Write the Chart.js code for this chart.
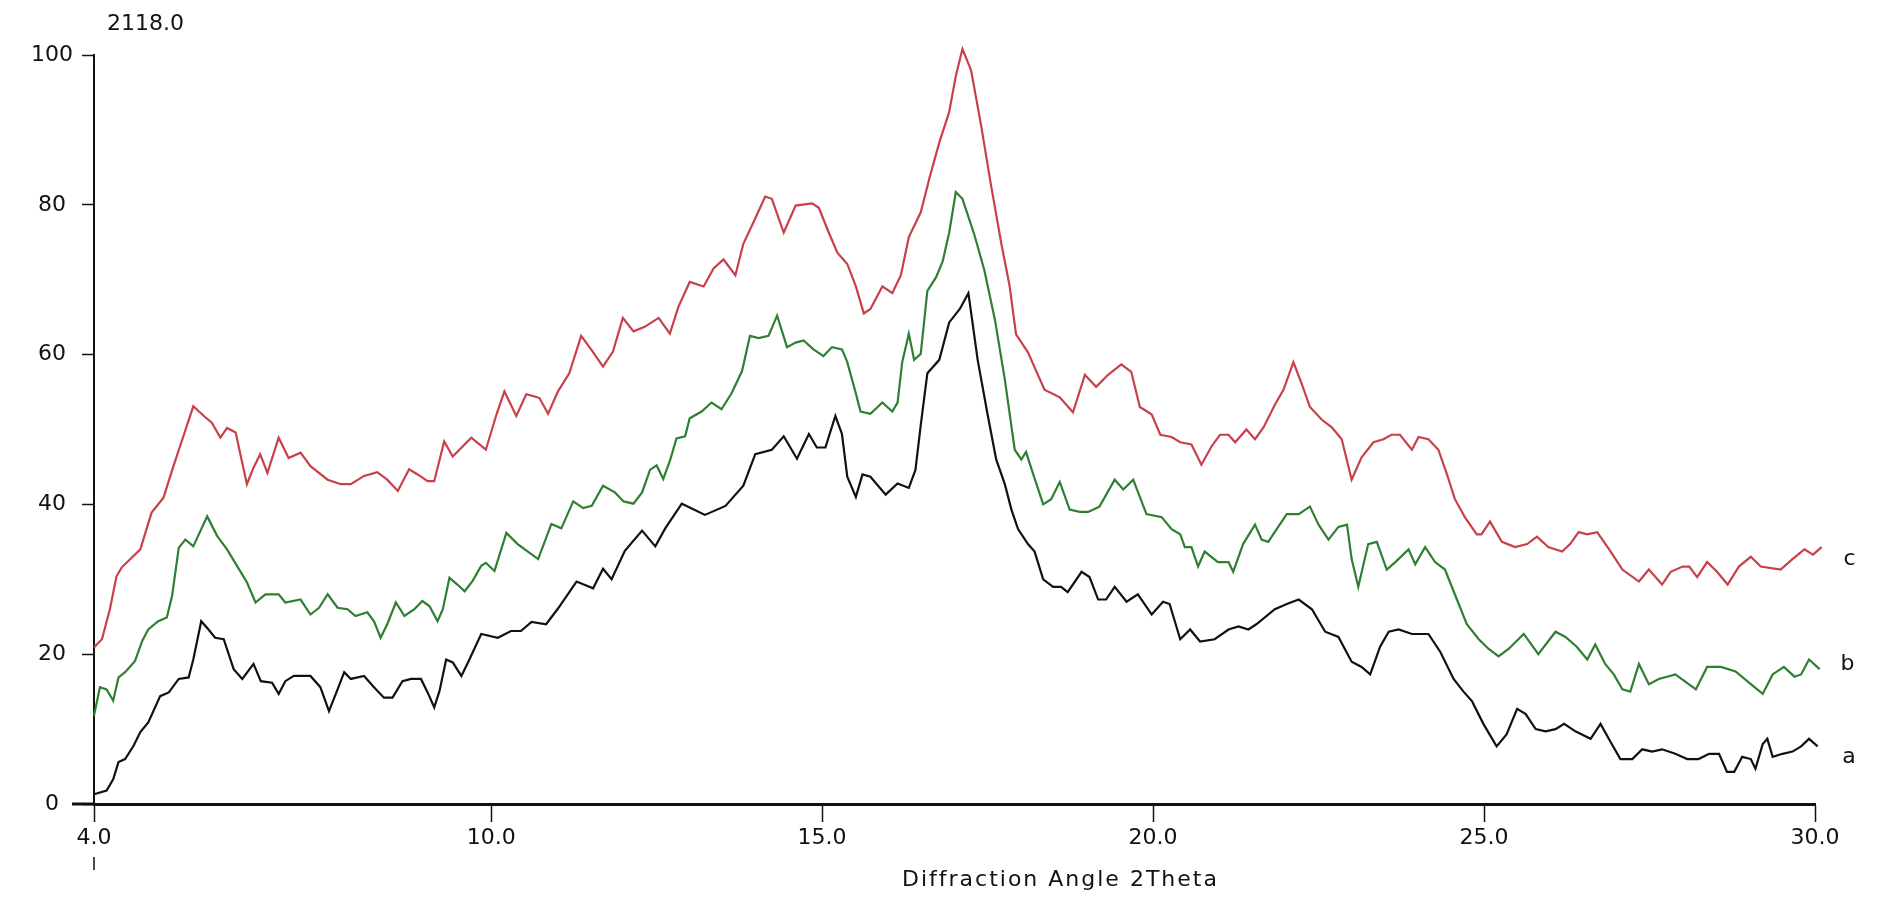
<!DOCTYPE html>
<html>
<head>
<meta charset="utf-8">
<script src="https://cdn.jsdelivr.net/npm/chart.js@4.4.1/dist/chart.umd.min.js"></script>
<style>
  html, body { margin: 0; padding: 0; background: #fff; }
  #wrap { width: 1882px; height: 923px; position: relative; }
</style>
</head>
<body>
<div id="wrap"><canvas id="xrd"></canvas></div>
<script>
// sample a (black)
const thetaA = [4.0, 4.19, 4.29, 4.37, 4.47, 4.6, 4.7, 4.82, 5.0, 5.13, 5.28, 5.43, 5.5, 5.62, 5.73, 5.83, 5.96, 6.11, 6.24, 6.41,
  6.52, 6.69, 6.79, 6.89, 7.02, 7.27, 7.42, 7.55, 7.68, 7.78, 7.88, 8.08, 8.23, 8.38, 8.51, 8.66, 8.79, 8.94, 9.04, 9.14,
  9.22, 9.32, 9.42, 9.55, 9.65, 9.85, 10.1, 10.3, 10.45, 10.61, 10.83, 11.01, 11.29, 11.54, 11.69, 11.82, 12.02, 12.28, 12.48, 12.63,
  12.88, 13.23, 13.54, 13.81, 13.99, 14.24, 14.42, 14.62, 14.8, 14.92, 15.05, 15.2, 15.3, 15.38, 15.51, 15.61, 15.73, 15.96, 16.14, 16.31,
  16.41, 16.49, 16.59, 16.77, 16.92, 17.08, 17.21, 17.35, 17.5, 17.63, 17.76, 17.86, 17.96, 18.11, 18.21, 18.34, 18.49, 18.61, 18.71, 18.92,
  19.04, 19.17, 19.29, 19.42, 19.6, 19.77, 19.98, 20.15, 20.25, 20.41, 20.56, 20.71, 20.93, 21.14, 21.29, 21.44, 21.56, 21.84, 22.02, 22.2,
  22.4, 22.6, 22.8, 23.0, 23.15, 23.28, 23.43, 23.56, 23.71, 23.91, 24.16, 24.34, 24.54, 24.69, 24.82, 24.99, 25.19, 25.34, 25.5, 25.63,
  25.78, 25.93, 26.08, 26.21, 26.38, 26.61, 26.76, 26.91, 27.06, 27.24, 27.39, 27.54, 27.69, 27.89, 28.07, 28.24, 28.4, 28.55, 28.67, 28.78,
  28.9, 29.03, 29.1, 29.21, 29.28, 29.36, 29.51, 29.66, 29.79, 29.91, 30.04, 30.11, 30.21];
const countA = [1.3, 1.8, 3.3, 5.6, 6.0, 7.8, 9.6, 10.9, 14.4, 14.9, 16.7, 16.9, 19.3, 24.4, 23.3, 22.2, 22.0, 18.0, 16.7, 18.7,
  16.4, 16.2, 14.7, 16.4, 17.1, 17.1, 15.6, 12.4, 15.3, 17.6, 16.7, 17.1, 15.6, 14.2, 14.2, 16.4, 16.7, 16.7, 14.9, 12.9,
  15.1, 19.3, 18.9, 17.1, 18.9, 22.7, 22.2, 23.1, 23.1, 24.3, 24.0, 26.1, 29.7, 28.8, 31.4, 30.0, 33.8, 36.5, 34.4, 36.8,
  40.1, 38.6, 39.8, 42.5, 46.7, 47.3, 49.1, 46.1, 49.4, 47.6, 47.6, 51.8, 49.4, 43.7, 41.0, 44.0, 43.7, 41.3, 42.8, 42.2,
  44.6, 50.6, 57.5, 59.3, 64.3, 66.1, 68.2, 59.3, 52.0, 46.0, 42.7, 39.3, 36.7, 34.7, 33.7, 30.0, 29.0, 29.0, 28.3, 31.0,
  30.3, 27.3, 27.3, 29.0, 27.0, 28.0, 25.3, 27.0, 26.7, 22.0, 23.3, 21.7, 22.0, 23.3, 23.7, 23.3, 24.0, 26.0, 26.7, 27.3,
  26.0, 23.0, 22.3, 19.0, 18.3, 17.3, 21.0, 23.0, 23.3, 22.7, 22.7, 20.3, 16.7, 15.0, 13.7, 10.7, 7.7, 9.3, 12.7, 12.0,
  10.0, 9.7, 10.0, 10.7, 9.7, 8.7, 10.7, 8.3, 6.0, 6.0, 7.3, 7.0, 7.3, 6.7, 6.0, 6.0, 6.7, 6.7, 4.3, 4.3,
  6.3, 6.0, 4.7, 8.0, 8.7, 6.3, 6.7, 7.0, 7.7, 8.7, 7.7, 6.3, 6.3];

// sample b (green)
const thetaB = [4.0, 4.09, 4.19, 4.29, 4.37, 4.47, 4.62, 4.73, 4.82, 4.97, 5.1, 5.18, 5.28, 5.38, 5.5, 5.71, 5.86, 6.01, 6.16, 6.31,
  6.44, 6.59, 6.79, 6.89, 7.12, 7.27, 7.4, 7.53, 7.68, 7.83, 7.95, 8.13, 8.23, 8.33, 8.43, 8.56, 8.69, 8.84, 8.96, 9.07,
  9.19, 9.27, 9.37, 9.49, 9.6, 9.72, 9.85, 9.92, 10.05, 10.23, 10.4, 10.71, 10.91, 11.06, 11.24, 11.39, 11.52, 11.69, 11.87, 12.0,
  12.15, 12.28, 12.4, 12.5, 12.6, 12.7, 12.8, 12.93, 13.0, 13.18, 13.33, 13.48, 13.63, 13.79, 13.91, 14.04, 14.19, 14.32, 14.47, 14.6,
  14.72, 14.87, 15.02, 15.15, 15.3, 15.38, 15.51, 15.58, 15.73, 15.91, 16.06, 16.14, 16.21, 16.31, 16.39, 16.49, 16.59, 16.72, 16.82, 16.92,
  17.02, 17.12, 17.3, 17.45, 17.61, 17.76, 17.91, 18.01, 18.08, 18.19, 18.34, 18.46, 18.59, 18.74, 18.89, 19.02, 19.19, 19.42, 19.55, 19.7,
  19.9, 20.13, 20.28, 20.41, 20.48, 20.58, 20.68, 20.78, 20.98, 21.14, 21.21, 21.36, 21.54, 21.64, 21.74, 21.89, 22.02, 22.2, 22.37, 22.5,
  22.65, 22.8, 22.93, 23.0, 23.1, 23.25, 23.38, 23.53, 23.66, 23.86, 23.96, 24.11, 24.26, 24.41, 24.59, 24.74, 24.92, 25.07, 25.22, 25.37,
  25.6, 25.82, 26.08, 26.23, 26.4, 26.56, 26.68, 26.83, 26.96, 27.09, 27.21, 27.34, 27.49, 27.64, 27.89, 28.2, 28.37, 28.58, 28.8, 29.03,
  29.21, 29.36, 29.53, 29.69, 29.79, 29.91, 30.07, 30.19];
const countB = [11.8, 15.6, 15.3, 13.8, 16.9, 17.6, 19.1, 21.8, 23.3, 24.4, 24.9, 27.8, 34.2, 35.3, 34.4, 38.4, 35.8, 34.0, 31.8, 29.6,
  26.9, 28.0, 28.0, 26.9, 27.3, 25.3, 26.2, 28.0, 26.2, 26.0, 25.1, 25.6, 24.4, 22.2, 24.0, 26.9, 25.1, 26.0, 27.1, 26.4,
  24.4, 26.0, 30.2, 29.3, 28.4, 29.8, 31.8, 32.2, 31.1, 36.2, 34.7, 32.7, 37.4, 36.8, 40.4, 39.5, 39.8, 42.5, 41.6, 40.4,
  40.1, 41.6, 44.6, 45.2, 43.4, 45.8, 48.8, 49.1, 51.5, 52.4, 53.6, 52.7, 54.8, 57.8, 62.5, 62.2, 62.5, 65.2, 61.0, 61.6,
  61.9, 60.7, 59.8, 61.0, 60.7, 59.0, 54.8, 52.4, 52.1, 53.6, 52.4, 53.6, 59.0, 62.8, 59.3, 60.1, 68.5, 70.3, 72.4, 76.3,
  81.7, 80.8, 76.0, 71.3, 64.7, 56.7, 47.3, 46.0, 47.0, 44.0, 40.0, 40.7, 43.0, 39.3, 39.0, 39.0, 39.7, 43.3, 42.0, 43.3,
  38.7, 38.3, 36.7, 36.0, 34.3, 34.3, 31.7, 33.7, 32.3, 32.3, 31.0, 34.7, 37.3, 35.3, 35.0, 37.0, 38.7, 38.7, 39.7, 37.3,
  35.3, 37.0, 37.3, 32.7, 29.0, 34.7, 35.0, 31.3, 32.3, 34.0, 32.0, 34.3, 32.3, 31.3, 27.3, 24.0, 22.0, 20.7, 19.7, 20.7,
  22.7, 20.0, 23.0, 22.3, 21.0, 19.3, 21.3, 18.7, 17.3, 15.3, 15.0, 18.7, 16.0, 16.7, 17.3, 15.3, 18.3, 18.3, 17.7, 16.0,
  14.7, 17.3, 18.3, 17.0, 17.3, 19.3, 18.0, 17.3];

// sample c (red)
const thetaC = [4.0, 4.12, 4.24, 4.34, 4.42, 4.55, 4.7, 4.87, 5.05, 5.2, 5.35, 5.5, 5.66, 5.78, 5.91, 6.01, 6.14, 6.31, 6.41, 6.51,
  6.62, 6.79, 6.94, 7.12, 7.27, 7.53, 7.73, 7.88, 8.08, 8.28, 8.43, 8.59, 8.76, 8.89, 9.04, 9.14, 9.29, 9.42, 9.52, 9.7,
  9.92, 10.08, 10.2, 10.38, 10.53, 10.66, 10.73, 10.86, 11.01, 11.18, 11.36, 11.51, 11.69, 11.84, 11.99, 12.15, 12.32, 12.53, 12.7, 12.83,
  13.0, 13.21, 13.36, 13.51, 13.69, 13.81, 13.97, 14.14, 14.24, 14.42, 14.6, 14.85, 14.95, 15.1, 15.23, 15.38, 15.51, 15.63, 15.73, 15.91,
  16.06, 16.19, 16.31, 16.49, 16.62, 16.77, 16.92, 17.02, 17.12, 17.25, 17.4, 17.55, 17.71, 17.83, 17.93, 18.11, 18.24, 18.36, 18.59, 18.79,
  18.97, 19.14, 19.32, 19.52, 19.67, 19.8, 19.98, 20.11, 20.28, 20.41, 20.58, 20.73, 20.88, 21.01, 21.14, 21.24, 21.41, 21.54, 21.67, 21.84,
  21.97, 22.12, 22.25, 22.37, 22.55, 22.7, 22.85, 23.0, 23.15, 23.33, 23.48, 23.6, 23.73, 23.91, 24.01, 24.16, 24.31, 24.44, 24.56, 24.71,
  24.89, 24.96, 25.09, 25.27, 25.47, 25.65, 25.8, 25.97, 26.18, 26.3, 26.43, 26.56, 26.71, 26.89, 27.09, 27.34, 27.49, 27.69, 27.82, 28.0,
  28.1, 28.22, 28.37, 28.52, 28.68, 28.85, 29.03, 29.18, 29.48, 29.66, 29.84, 29.97, 30.1, 30.22];
const countC = [20.9, 22.0, 26.0, 30.4, 31.6, 32.7, 34.0, 38.9, 40.9, 45.1, 49.1, 53.1, 51.8, 50.9, 48.9, 50.2, 49.6, 42.7, 44.9, 46.7,
  44.2, 48.9, 46.2, 46.9, 45.1, 43.3, 42.7, 42.7, 43.8, 44.3, 43.3, 41.8, 44.7, 44.0, 43.1, 43.1, 48.4, 46.4, 47.3, 48.9,
  47.3, 52.0, 55.1, 51.8, 54.7, 54.4, 54.2, 52.1, 55.1, 57.5, 62.5, 60.7, 58.4, 60.4, 64.9, 63.1, 63.7, 64.9, 62.8, 66.4,
  69.7, 69.1, 71.5, 72.7, 70.6, 74.8, 77.8, 81.1, 80.8, 76.3, 79.9, 80.2, 79.6, 76.3, 73.6, 72.1, 69.1, 65.5, 66.1, 69.1,
  68.2, 70.6, 75.7, 79.0, 83.5, 88.3, 92.4, 97.2, 100.8, 98.0, 90.7, 82.7, 74.7, 69.3, 62.7, 60.3, 57.7, 55.3, 54.3, 52.3,
  57.3, 55.7, 57.3, 58.7, 57.7, 53.0, 52.0, 49.3, 49.0, 48.3, 48.0, 45.3, 47.7, 49.3, 49.3, 48.3, 50.0, 48.7, 50.3, 53.3,
  55.3, 59.0, 56.0, 53.0, 51.3, 50.3, 48.7, 43.3, 46.3, 48.3, 48.7, 49.3, 49.3, 47.3, 49.0, 48.7, 47.3, 44.0, 40.7, 38.3,
  36.0, 36.0, 37.7, 35.0, 34.3, 34.7, 35.7, 34.3, 33.7, 34.7, 36.3, 36.0, 36.3, 34.0, 31.3, 29.7, 31.3, 29.3, 31.0, 31.7,
  31.7, 30.3, 32.3, 31.0, 29.3, 31.7, 33.0, 31.7, 31.3, 32.7, 34.0, 33.3, 34.3, 32.7];

const seriesNames = ['a', 'b', 'c'];
const seriesColors = ['#111111', '#2f7f32', '#c8404a'];
const xTickValues = [4.0, 10.0, 15.0, 20.0, 25.0, 30.0];
const yTickValues = [0, 20, 40, 60, 80, 100];
const maxCountLabel = '2118.0';
const xAxisTitle = 'Diffraction Angle 2Theta';

const toPoints = (xs, ys) => xs.map((x, i) => ({x: x, y: ys[i]}));

const FONT = '"DejaVu Sans", sans-serif';
const labelNudge = [0, -10, 0];

// labels a/b/c at line ends, count label, axis title, axis extras
const extrasPlugin = {
    id: 'extras',
    afterDraw(chart) {
        const ctx = chart.ctx;
        const xs = chart.scales.x;
        const ys = chart.scales.y;
        const area = chart.chartArea;
        ctx.save();
        ctx.fillStyle = '#111';
        ctx.font = '22px ' + FONT;
        ctx.textBaseline = 'middle';

        chart.data.datasets.forEach((ds, i) => {
            const pts = chart.getDatasetMeta(i).data;
            const last = pts[pts.length - 1];
            ctx.textAlign = 'center';
            ctx.fillText(seriesNames[i], last.x + 20, last.y + labelNudge[i]);
        });

        ctx.textAlign = 'left';
        ctx.fillText(maxCountLabel, 107, 24);

        ctx.letterSpacing = '2px';
        ctx.fillText(xAxisTitle, 902, 880);
        ctx.letterSpacing = '0px';

        // x axis line runs a bit left of the y axis
        const y0 = ys.getPixelForValue(0);
        ctx.strokeStyle = '#111';
        ctx.lineWidth = 3;
        ctx.beginPath();
        ctx.moveTo(72, y0);
        ctx.lineTo(area.left, y0);
        ctx.stroke();

        // small mark under the first x label
        const x4 = xs.getPixelForValue(xTickValues[0]);
        ctx.lineWidth = 1.5;
        ctx.beginPath();
        ctx.moveTo(x4, 857);
        ctx.lineTo(x4, 870);
        ctx.stroke();
        ctx.restore();
    }
};

const ctx = document.getElementById('xrd').getContext('2d');
const xrdChart = new Chart(ctx, {
    type: 'line',
    data: {
        datasets: [
            {label: seriesNames[0], data: toPoints(thetaA, countA), borderColor: seriesColors[0]},
            {label: seriesNames[1], data: toPoints(thetaB, countB), borderColor: seriesColors[1]},
            {label: seriesNames[2], data: toPoints(thetaC, countC), borderColor: seriesColors[2]}
        ]
    },
    options: {
        responsive: true,
        maintainAspectRatio: false,
        animation: false,
        devicePixelRatio: 1,
        layout: {padding: {left: 0, right: 67, top: 55, bottom: 0}},
        elements: {
            line: {borderWidth: 2.2, tension: 0},
            point: {radius: 0, hoverRadius: 0}
        },
        datasets: {line: {clip: false}},
        plugins: {
            legend: {display: false},
            tooltip: {enabled: false},
            title: {display: false}
        },
        scales: {
            x: {
                type: 'linear',
                min: 4,
                max: 30,
                afterBuildTicks: (scale) => {
                    scale.ticks = xTickValues.map(v => ({value: v}));
                },
                afterFit: (scale) => { scale.height = 119; },
                border: {display: true, color: '#111', width: 3},
                grid: {drawOnChartArea: false, drawTicks: true, tickLength: 18, tickColor: '#111', tickWidth: 1.5},
                ticks: {
                    color: '#111',
                    font: {family: FONT, size: 22},
                    padding: 3,
                    maxRotation: 0,
                    autoSkip: false,
                    callback: (v) => Number(v).toFixed(1)
                }
            },
            y: {
                min: 0,
                max: 100,
                afterBuildTicks: (scale) => {
                    scale.ticks = yTickValues.map(v => ({value: v}));
                },
                afterFit: (scale) => { scale.width = 94; },
                border: {display: true, color: '#111', width: 2},
                grid: {drawOnChartArea: false, drawTicks: true, tickLength: 12, tickColor: '#111', tickWidth: 1.5},
                ticks: {
                    color: '#111',
                    font: {family: FONT, size: 22},
                    padding: 9,
                    crossAlign: 'center'
                }
            }
        }
    },
    plugins: [extrasPlugin]
});
</script>
</body>
</html>
